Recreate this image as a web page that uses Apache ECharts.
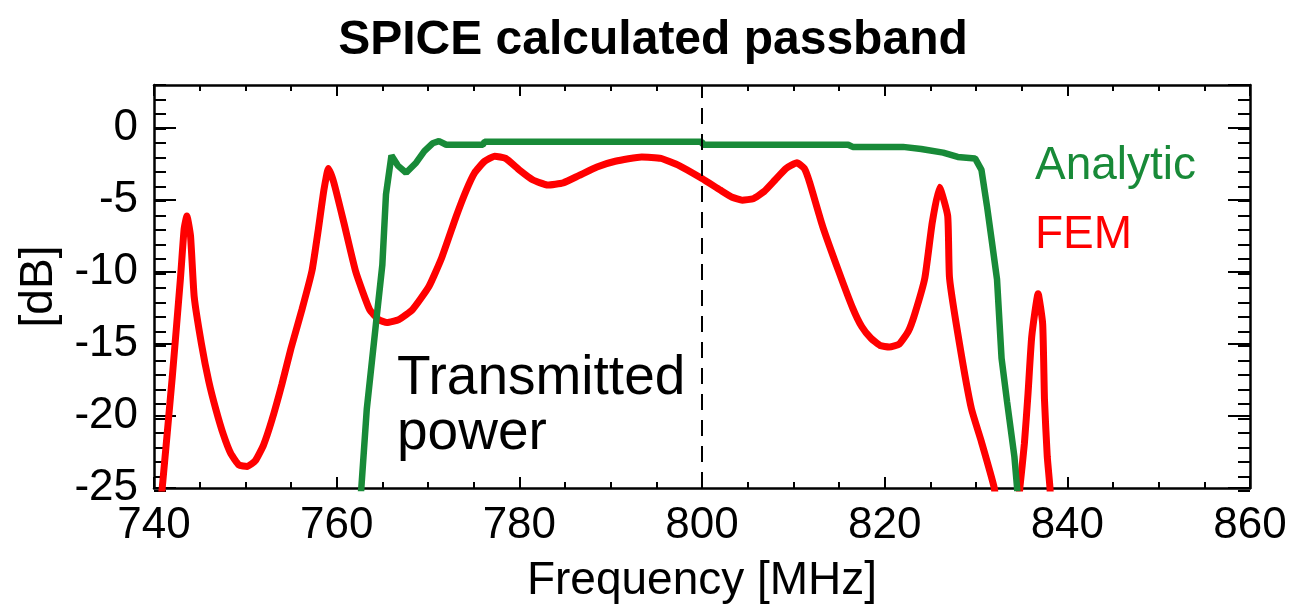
<!DOCTYPE html>
<html>
<head>
<meta charset="utf-8">
<script src="https://cdn.jsdelivr.net/npm/echarts@6/dist/echarts.min.js"></script>
<style>
  html, body { margin: 0; padding: 0; background: #fff; }
  #chart { width: 1292px; height: 609px; }
</style>
</head>
<body>
<div id="chart"></div>
<script>
// Analytic (green) curve, frequency in MHz and level in dB
var analyticFreq = [762.3, 762.7, 763.3, 764.3, 765.0, 765.4, 766.0, 766.7, 767.6, 768.7, 769.6, 770.5, 771.2,
  772.0, 776.0, 776.2, 800.0, 800.1, 816.0, 816.5, 822.0, 824.0, 826.4, 828.0, 829.9,
  830.6, 831.2, 831.7, 832.3, 832.8, 833.4, 834.2, 834.5, 834.8];
var analyticDb = [-28, -25, -19.5, -13.6, -9.5, -4.6, -1.9, -2.6, -3.1, -2.4, -1.6, -1.05, -0.9,
  -1.15, -1.15, -0.95, -0.95, -1.15, -1.15, -1.3, -1.3, -1.45, -1.7, -2.0, -2.1,
  -2.9, -5.4, -7.7, -10.5, -16.0, -19.0, -22.8, -25, -28];

// FEM (red) curve
var femFreq = [740.0, 740.9, 742.0, 742.9, 743.3, 743.6, 744.0, 744.4, 745.2, 746.0, 746.8, 747.6, 748.4,
  749.3, 750.2, 751.1, 752.0, 752.9, 754.0, 755.0, 756.2, 757.3, 758.0, 758.6, 759.1, 759.7,
  760.8, 762.1, 763.6, 764.6, 765.5, 766.8, 768.3, 770.1, 771.5, 773.1, 774.2, 775.1, 776.2,
  777.3, 778.5, 780.0, 781.5, 783.1, 784.8, 786.5, 788.5, 790.5, 793.4, 795.5, 797.5, 800.0,
  802.0, 803.3, 804.4, 805.6, 806.8, 808.0, 809.2, 810.4, 811.2, 811.8, 813.2, 815.0, 816.5,
  817.5, 818.5, 819.5, 820.5, 821.6, 822.6, 823.3, 824.4, 825.2, 826.0, 826.9, 827.1, 828.2,
  829.5, 830.6, 832.0, 832.6, 834.2, 834.8, 835.3, 835.7, 836.1, 836.8, 837.3, 837.5, 837.8,
  838.1, 838.5];
var femDb = [-31, -25, -17.3, -10.4, -7.0, -6.1, -7.5, -11.7, -15.0, -17.6, -19.6, -21.3, -22.6,
  -23.4, -23.5, -23.1, -22.0, -20.3, -17.8, -15.3, -12.6, -9.9, -7.0, -4.3, -2.8, -3.8,
  -6.6, -10.0, -12.6, -13.3, -13.5, -13.3, -12.6, -11.0, -9.0, -6.1, -4.3, -3.1, -2.3,
  -1.95, -2.1, -2.9, -3.6, -3.95, -3.8, -3.3, -2.7, -2.3, -2.0, -2.1, -2.6, -3.5,
  -4.3, -4.8, -5.0, -4.9, -4.4, -3.6, -2.8, -2.4, -2.8, -3.8, -6.8, -10.0, -12.5,
  -13.8, -14.6, -15.1, -15.2, -15.0, -14.1, -12.9, -10.4, -6.6, -4.1, -6.1, -10.4, -15.0,
  -19.5, -21.8, -25, -28, -28, -25, -21.9, -18.4, -14.5, -11.5, -13.6, -18.9, -22.8,
  -25, -30];

var xTicks = [740, 760, 780, 800, 820, 840, 860];
var yTicks = [-25, -20, -15, -10, -5, 0];
var markerFreq = 800;

var font = 'Liberation Sans, Arial, Helvetica, sans-serif';
var green = '#188a38';
var red = '#ff0000';

function pairs(xs, ys) {
  var out = [];
  for (var i = 0; i < xs.length; i++) out.push([xs[i], ys[i]]);
  return out;
}

var gridRect = { left: 154, right: 42, top: 85, bottom: 118 };
var xMin = xTicks[0], xMax = xTicks[xTicks.length - 1];
var yMin = yTicks[0], yMax = 3;

var chart = echarts.init(document.getElementById('chart'));
chart.setOption({
  animation: false,
  backgroundColor: '#fff',
  grid: [
    Object.assign({}, gridRect),
    Object.assign({}, gridRect)
  ],
  xAxis: [
    { //bottom, labelled
      gridIndex: 0, type: 'value', position: 'bottom', min: xMin, max: xMax, interval: 20,
      name: 'Frequency [MHz]', nameLocation: 'middle', nameGap: 70,
      nameTextStyle: { fontFamily: font, fontSize: 46, color: '#000' },
      axisLine: { onZero: false, lineStyle: { color: '#000', width: 2.5 } },
      axisTick: { inside: true, length: 11, lineStyle: { color: '#000', width: 2 } },
      minorTick: { show: true, splitNumber: 4, length: 6, lineStyle: { color: '#000', width: 2 } },
      axisLabel: { fontFamily: font, fontSize: 44, color: '#000', margin: 16 },
      splitLine: { show: false }
    },
    { //top mirror
      gridIndex: 0, type: 'value', position: 'top', min: xMin, max: xMax, interval: 20,
      axisLine: { onZero: false, lineStyle: { color: '#000', width: 2.5 } },
      axisTick: { inside: true, length: 11, lineStyle: { color: '#000', width: 2 } },
      minorTick: { show: true, splitNumber: 4, length: 6, lineStyle: { color: '#000', width: 2 } },
      axisLabel: { show: false },
      splitLine: { show: false }
    },
    { gridIndex: 1, type: 'value', min: xMin, max: xMax, show: false }
  ],
  yAxis: [
    { //left, labelled
      gridIndex: 0, type: 'value', position: 'left', min: yMin, max: yMax, interval: 5,
      name: '[dB]', nameLocation: 'middle', nameGap: 92,
      nameTextStyle: { fontFamily: font, fontSize: 46, color: '#000' },
      axisLine: { onZero: false, lineStyle: { color: '#000', width: 2.5 } },
      axisTick: { inside: true, length: 22, lineStyle: { color: '#000', width: 2 } },
      axisLabel: { fontFamily: font, fontSize: 44, color: '#000', margin: 16, showMaxLabel: false },
      splitLine: { show: false }
    },
    { //right mirror
      gridIndex: 0, type: 'value', position: 'right', min: yMin, max: yMax, interval: 5,
      axisLine: { onZero: false, lineStyle: { color: '#000', width: 2.5 } },
      axisTick: { inside: true, length: 22, lineStyle: { color: '#000', width: 2 } },
      axisLabel: { show: false },
      splitLine: { show: false }
    },
    { //1 dB ticks, left
      gridIndex: 1, type: 'value', position: 'left', min: yMin, max: yMax, interval: 1,
      axisLine: { show: false, onZero: false },
      axisTick: { inside: true, length: 12, lineStyle: { color: '#000', width: 2 } },
      axisLabel: { show: false },
      splitLine: { show: false }
    },
    { //1 dB ticks, right
      gridIndex: 1, type: 'value', position: 'right', min: yMin, max: yMax, interval: 1,
      axisLine: { show: false, onZero: false },
      axisTick: { inside: true, length: 12, lineStyle: { color: '#000', width: 2 } },
      axisLabel: { show: false },
      splitLine: { show: false }
    }
  ],
  series: [
    {
      name: 'FEM', type: 'line', xAxisIndex: 0, yAxisIndex: 0,
      data: pairs(femFreq, femDb), showSymbol: false, smooth: 0.15, clip: true,
      lineStyle: { color: red, width: 7 }, z: 3
    },
    {
      name: 'Analytic', type: 'line', xAxisIndex: 0, yAxisIndex: 0,
      data: pairs(analyticFreq, analyticDb), showSymbol: false, smooth: false, clip: true,
      lineStyle: { color: green, width: 6.5 }, z: 4,
      markLine: {
        silent: true, symbol: ['none', 'none'], label: { show: false },
        lineStyle: { color: '#000', width: 2, type: [16, 10] },
        data: [{ xAxis: markerFreq }]
      }
    }
  ],
  graphic: [
    { type: 'text', x: 653, y: 41,
      style: { text: 'SPICE calculated passband', font: 'bold 48px ' + font, fill: '#000', align: 'center', verticalAlign: 'middle' } },
    { type: 'text', x: 1035, y: 166,
      style: { text: 'Analytic', font: '46px ' + font, fill: green, align: 'left', verticalAlign: 'middle' } },
    { type: 'text', x: 1035, y: 235,
      style: { text: 'FEM', font: '46px ' + font, fill: red, align: 'left', verticalAlign: 'middle' } },
    { type: 'text', x: 397, y: 379,
      style: { text: 'Transmitted', font: '55px ' + font, fill: '#000', align: 'left', verticalAlign: 'middle' } },
    { type: 'text', x: 397, y: 434,
      style: { text: 'power', font: '55px ' + font, fill: '#000', align: 'left', verticalAlign: 'middle' } }
  ]
});
</script>
</body>
</html>
